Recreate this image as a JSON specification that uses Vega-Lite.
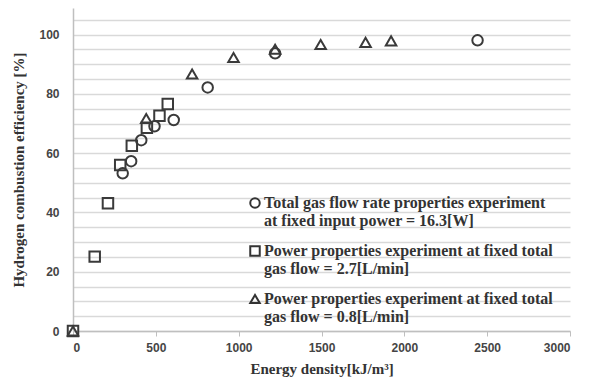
{
  "$schema": "https://vega.github.io/schema/vega-lite/v6.json",
  "width": 497,
  "height": 323,
  "autosize": {"type": "none"},
  "padding": {"left": 73, "top": 8, "right": 24, "bottom": 49},
  "background": "white",
  "config": {"view": {"stroke": null}},
  "data": {
    "values": [
      {"series": "circle", "x": 300, "y": 53.2},
      {"series": "circle", "x": 351, "y": 57.3},
      {"series": "circle", "x": 412, "y": 64.4},
      {"series": "circle", "x": 492, "y": 69.1},
      {"series": "circle", "x": 608, "y": 71.2},
      {"series": "circle", "x": 813, "y": 82.2},
      {"series": "circle", "x": 1220, "y": 93.7},
      {"series": "circle", "x": 2442, "y": 98.1},
      {"series": "square", "x": 0, "y": 0},
      {"series": "square", "x": 131, "y": 25.1},
      {"series": "square", "x": 211, "y": 43.1},
      {"series": "square", "x": 285, "y": 56},
      {"series": "square", "x": 355, "y": 62.5},
      {"series": "square", "x": 446, "y": 68.6},
      {"series": "square", "x": 522, "y": 72.6},
      {"series": "square", "x": 572, "y": 76.6},
      {"series": "triangle", "x": 0, "y": 0},
      {"series": "triangle", "x": 442, "y": 71.7},
      {"series": "triangle", "x": 719, "y": 86.7},
      {"series": "triangle", "x": 969, "y": 92.3},
      {"series": "triangle", "x": 1220, "y": 95.1},
      {"series": "triangle", "x": 1495, "y": 96.7},
      {"series": "triangle", "x": 1766, "y": 97.4},
      {"series": "triangle", "x": 1920, "y": 97.9}
    ]
  },
  "mark": {"type": "point", "filled": false, "strokeWidth": 2, "opacity": 1},
  "encoding": {
    "x": {
      "field": "x", "type": "quantitative",
      "scale": {"domain": [0, 3000], "nice": false},
      "axis": {
        "title": "Energy density[kJ/m³]",
        "values": [0, 500, 1000, 1500, 2000, 2500, 3000],
        "format": "d",
        "grid": false,
        "domainColor": "#bfbfbf", "domainWidth": 1.5,
        "tickColor": "#bfbfbf", "tickSize": 5,
        "labelFont": "Liberation Sans", "labelFontSize": 12, "labelFontWeight": "bold", "labelColor": "#454545",
        "labelPadding": 6,
        "titleFont": "Liberation Serif", "titleFontSize": 15, "titleFontWeight": "bold", "titleColor": "#333333",
        "titlePadding": 8
      }
    },
    "y": {
      "field": "y", "type": "quantitative",
      "scale": {"domain": [0, 109], "nice": false},
      "axis": {
        "title": "Hydrogen combustion efficiency [%]",
        "values": [0, 5, 10, 15, 20, 25, 30, 35, 40, 45, 50, 55, 60, 65, 70, 75, 80, 85, 90, 95, 100, 105],
        "labelExpr": "datum.value % 20 === 0 ? datum.label : ''",
        "grid": true, "gridColor": "#d9d9d9", "gridWidth": 1.5,
        "ticks": false,
        "domainColor": "#bfbfbf", "domainWidth": 1.5,
        "labelFont": "Liberation Sans", "labelFontSize": 12, "labelFontWeight": "bold", "labelColor": "#454545",
        "labelPadding": 14,
        "titleFont": "Liberation Serif", "titleFontSize": 15, "titleFontWeight": "bold", "titleColor": "#333333",
        "titlePadding": 12
      }
    },
    "shape": {
      "field": "series", "type": "nominal",
      "scale": {"domain": ["circle", "square", "triangle"], "range": ["circle", "square", "triangle-up"]},
      "legend": {
        "title": null,
        "orient": "none",
        "legendX": 174,
        "legendY": 187,
        "labelExpr": "datum.value === 'circle' ? ['Total gas flow rate properties experiment', 'at fixed input power = 16.3[W]'] : datum.value === 'square' ? ['Power properties experiment at fixed total', 'gas flow = 2.7[L/min]'] : ['Power properties experiment at fixed total', 'gas flow = 0.8[L/min]']",
        "labelFont": "Liberation Serif", "labelFontSize": 16, "labelFontWeight": "bold", "labelColor": "#333333",
        "labelLimit": 400,
        "labelOffset": 1,
        "rowPadding": 13,
        "symbolSize": 90,
        "symbolStrokeWidth": 2,
        "symbolStrokeColor": "#333333",
        "symbolFillColor": "transparent",
        "encode": {
          "labels": {"update": {"lineHeight": {"value": 17.5}, "baseline": {"value": "top"}, "dy": {"value": -9}}}
        }
      }
    },
    "color": {"value": "#3a3a3a"},
    "size": {"value": 110}
  }
}
